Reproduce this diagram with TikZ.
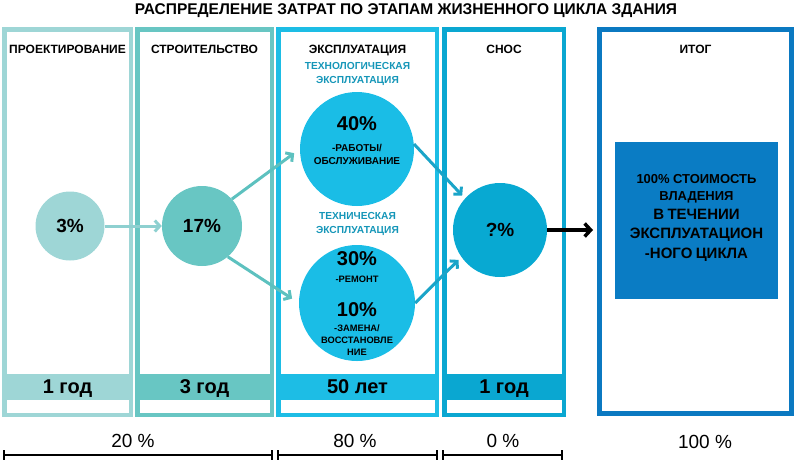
\documentclass[tikz,border=0pt]{standalone}
\usepackage{fontspec}
\setmainfont{Liberation Sans}
\usetikzlibrary{arrows.meta,positioning}
\definecolor{stageDesign}{RGB}{158,214,214}
\definecolor{stageBuild}{RGB}{104,198,195}
\definecolor{stageUse}{RGB}{29,189,229}
\definecolor{stageDemol}{RGB}{10,167,209}
\definecolor{stageTotal}{RGB}{11,121,193}
\definecolor{subTeal}{RGB}{21,150,184}
\definecolor{totalFill}{RGB}{10,124,196}
\definecolor{arrDesign}{RGB}{142,208,208}
\definecolor{arrBuild}{RGB}{93,193,191}
\definecolor{arrUse}{RGB}{26,164,200}
\definecolor{circUse}{RGB}{26,189,230}
\definecolor{circDemol}{RGB}{8,169,210}

\begin{document}
\begin{tikzpicture}[x=1pt,y=-1pt,
  stagebox/.style={draw=#1,line width=4.5pt,minimum height=385.5pt,inner sep=0pt},
  stagehead/.style={anchor=base,inner sep=0pt,font=\fontsize{12}{13}\selectfont\bfseries},
  substage/.style={anchor=base,text width=140pt,align=center,inner sep=0pt,text=subTeal,font=\fontsize{10.2}{14}\selectfont\bfseries},
  yearband/.style={fill=#1,minimum height=26pt,inner sep=0pt,text height=13.5pt,text depth=0pt,font=\fontsize{20}{20}\selectfont\bfseries},
  costdot/.style={circle,fill=#1,inner sep=0pt,font=\fontsize{19}{19}\selectfont\bfseries},
  dottext/.style={anchor=base,text width=150pt,align=center,inner sep=0pt,font=\bfseries},
  flow/.style={draw=#1,line width=3pt,-{Straight Barb[length=5pt,width=11pt]}},
  share/.style={anchor=base,inner sep=0pt,font=\fontsize{19}{19}\selectfont},
  scalebar/.style={line width=2pt,{Bar[width=10pt]}-{Bar[width=10pt]}}
]
\useasboundingbox (0,0) rectangle (797,459);

% title
\node[anchor=base,inner sep=0pt,font=\fontsize{15.5}{16}\selectfont\bfseries] (title) at (406,14)
  {РАСПРЕДЕЛЕНИЕ ЗАТРАТ ПО ЭТАПАМ ЖИЗНЕННОГО ЦИКЛА ЗДАНИЯ};

% stage frames
\node[stagebox=stageDesign,minimum width=126.5pt] (design) at (67.5,222) {};
\node[stagebox=stageBuild,minimum width=134.5pt] (build) at (204.5,222) {};
\node[stagebox=stageUse,minimum width=158.5pt] (use) at (357.5,222) {};
\node[stagebox=stageDemol,minimum width=119.5pt] (demol) at (504,222) {};
\node[draw=stageTotal,line width=5pt,minimum width=192pt,minimum height=384pt,inner sep=0pt] (total) at (695.5,221.5) {};

\node[stagehead] (designHd) at ([yshift=-26pt]design.north) {ПРОЕКТИРОВАНИЕ};
\node[stagehead] (buildHd) at ([yshift=-26pt]build.north) {СТРОИТЕЛЬСТВО};
\node[stagehead] (useHd) at ([yshift=-26pt]use.north) {ЭКСПЛУАТАЦИЯ};
\node[stagehead] (demolHd) at ([yshift=-26pt]demol.north) {СНОС};
\node[stagehead] (totalHd) at ([yshift=-26pt]total.north) {ИТОГ};

\node[substage] (useSubA) at (357.5,69) {ТЕХНОЛОГИЧЕСКАЯ\par ЭКСПЛУАТАЦИЯ\par};
\node[substage] (useSubB) at (357.5,219) {ТЕХНИЧЕСКАЯ\par ЭКСПЛУАТАЦИЯ\par};

% year bands
\node[yearband=stageDesign,minimum width=131pt] (designYr) at ([yshift=30pt]design.south) {1 год};
\node[yearband=stageBuild,minimum width=139pt] (buildYr) at ([yshift=30pt]build.south) {3 год};
\node[yearband=stageUse,minimum width=163pt] (useYr) at ([yshift=30pt]use.south) {50 лет};
\node[yearband=stageDemol,minimum width=124pt] (demolYr) at ([yshift=30pt]demol.south) {1 год};

% cost circles
\node[costdot=stageDesign,minimum size=69pt] (cDesign) at (70,226) {3\%};
\node[costdot=stageBuild,minimum size=80pt] (cBuild) at (202,226) {17\%};
\node[costdot=circUse,minimum size=114pt] (cWork) at (357,149) {};
\node[costdot=circUse,minimum size=116pt] (cRepair) at (357,303) {};
\node[costdot=circDemol,minimum size=94pt] (cDemol) at (500,230) {?\%};

\node[dottext] (workTxt) at (357,130.5) {%
{\fontsize{20}{20}\selectfont 40\%\par}%
{\fontsize{10}{20.5}\selectfont -РАБОТЫ/\par}%
{\fontsize{10}{13}\selectfont ОБСЛУЖИВАНИЕ\par}};
\node[dottext] (repairTxt) at (357,265) {%
{\fontsize{20}{20}\selectfont 30\%\par}%
{\fontsize{9.3}{17.5}\selectfont -РЕМОНТ\par}%
{\fontsize{20}{33.5}\selectfont 10\%\par}%
{\fontsize{9.3}{15.5}\selectfont -ЗАМЕНА/\par}%
{\fontsize{9.3}{12}\selectfont ВОССТАНОВЛЕ\par НИЕ\par}};

% total box
\node[fill=totalFill,minimum width=163pt,minimum height=157pt,inner sep=0pt] (totalBox) at (696.5,220.5) {};
\node[dottext] (totalTxt) at (696.5,183) {%
{\fontsize{13}{13}\selectfont 100\% СТОИМОСТЬ\par}%
{\fontsize{13}{17}\selectfont ВЛАДЕНИЯ\par}%
{\fontsize{15}{19.5}\selectfont В ТЕЧЕНИИ\par}%
{\fontsize{15}{19}\selectfont ЭКСПЛУАТАЦИОН\par}%
{\fontsize{15}{20}\selectfont -НОГО ЦИКЛА\par}};

% flows
\draw[flow=arrDesign] (cDesign) -- (cBuild);
\draw[flow=arrBuild,shorten >=7pt] (cBuild.42) -- (cWork.west);
\draw[flow=arrBuild,shorten >=8pt] (cBuild.-50) -- (cRepair.west);
\draw[flow=arrUse,shorten >=4pt] (cWork.5) -- (cDemol.138);
\draw[flow=arrUse,shorten >=4pt] (cRepair.east) -- (cDemol.215);
\draw[flow=black,line width=3.5pt,-{Straight Barb[length=6pt,width=13pt]},shorten >=4pt] (cDemol.east) -- (cDemol.east -| total.west);

% shares
\node[share] (share20) at (133,447) {20 \%};
\node[share] (share80) at (355,447) {80 \%};
\node[share] (share0) at (503,447) {0 \%};
\node[share] (share100) at (705,448) {100 \%};

\coordinate (barA) at (3,455);
\coordinate (barB) at (273,455);
\coordinate (barC) at (277,455);
\coordinate (barD) at (438,455);
\coordinate (barE) at (442,455);
\coordinate (barF) at (563,455);
\draw[scalebar] (barA) -- (barB);
\draw[scalebar] (barC) -- (barD);
\draw[scalebar] (barE) -- (barF);
\end{tikzpicture}
\end{document}
